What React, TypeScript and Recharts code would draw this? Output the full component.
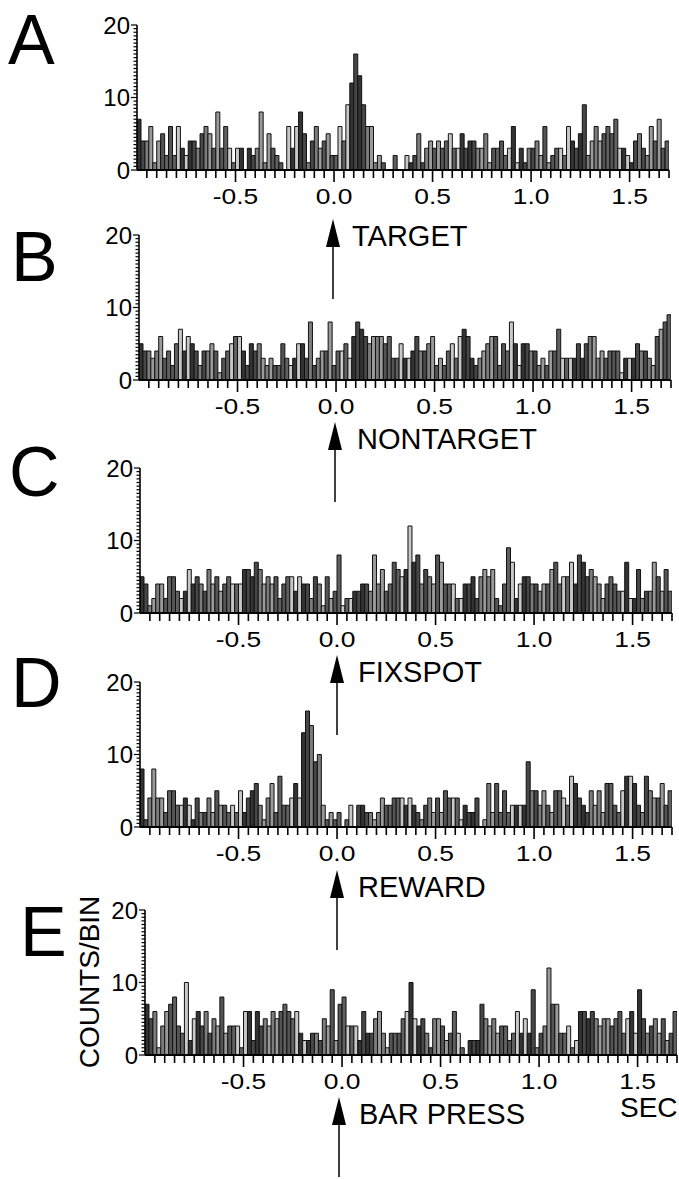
import { BarChart, Bar, XAxis, YAxis, Cell } from "recharts";

// peri-event histograms, 20 ms bins from -1.0 s to 1.7 s
const BIN_START = -1.0;
const BIN_WIDTH = 0.02;

const TARGET_COUNTS = [
  7, 4, 4, 6, 1, 4, 5, 2, 6, 2, 6, 3, 2, 4, 4,
  3, 5, 6, 5, 3, 8, 3, 6, 3, 1, 3, 3, 0, 3, 2,
  3, 8, 1, 5, 3, 2, 1, 0, 6, 3, 6, 8, 5, 1, 4,
  6, 3, 4, 5, 2, 2, 6, 4, 9, 12, 16, 13, 9, 6, 6,
  1, 2, 1, 0, 0, 2, 0, 0, 2, 1, 2, 5, 1, 3, 4,
  3, 4, 3, 4, 5, 3, 3, 5, 3, 4, 4, 3, 3, 5, 1,
  3, 3, 4, 2, 3, 6, 1, 3, 1, 3, 3, 4, 2, 6, 1,
  2, 3, 3, 2, 6, 4, 3, 5, 9, 2, 4, 6, 4, 5, 6,
  5, 7, 3, 3, 2, 1, 4, 5, 3, 2, 6, 4, 7, 3, 4,
];

const NONTARGET_COUNTS = [
  5, 4, 4, 3, 4, 6, 3, 4, 2, 5, 7, 4, 6, 5, 4,
  2, 4, 4, 5, 4, 1, 3, 4, 5, 6, 6, 4, 2, 5, 4,
  5, 3, 2, 3, 2, 2, 5, 3, 2, 3, 5, 5, 3, 8, 2,
  3, 4, 4, 8, 2, 4, 4, 5, 3, 6, 8, 7, 6, 5, 6,
  6, 6, 5, 6, 3, 3, 5, 3, 3, 4, 6, 4, 4, 5, 6,
  2, 3, 2, 4, 5, 3, 6, 7, 6, 3, 2, 3, 4, 5, 6,
  6, 2, 5, 4, 8, 5, 2, 5, 5, 4, 4, 2, 3, 2, 4,
  4, 7, 3, 3, 3, 3, 5, 3, 5, 6, 6, 3, 4, 3, 4,
  4, 4, 1, 3, 3, 3, 5, 4, 4, 3, 2, 6, 7, 8, 9,
];

const FIXSPOT_COUNTS = [
  5, 4, 1, 2, 4, 4, 2, 5, 5, 3, 2, 3, 6, 4, 5,
  4, 3, 6, 4, 5, 3, 4, 5, 4, 4, 4, 6, 6, 5, 7,
  6, 4, 5, 4, 5, 2, 4, 5, 5, 3, 5, 4, 4, 2, 5,
  4, 1, 5, 2, 3, 8, 1, 2, 2, 3, 3, 4, 4, 3, 8,
  4, 6, 3, 4, 7, 6, 5, 6, 12, 7, 8, 4, 6, 5, 4,
  8, 7, 4, 4, 4, 2, 2, 4, 4, 5, 2, 5, 6, 5, 6,
  2, 1, 4, 9, 7, 2, 4, 5, 5, 4, 4, 3, 4, 4, 6,
  7, 4, 5, 5, 7, 4, 8, 7, 5, 6, 5, 4, 2, 4, 5,
  4, 3, 3, 7, 2, 2, 6, 2, 3, 3, 7, 5, 3, 6, 3,
];

const REWARD_COUNTS = [
  8, 1, 4, 8, 4, 4, 2, 5, 5, 3, 3, 4, 3, 1, 4,
  2, 2, 4, 2, 5, 3, 3, 2, 3, 2, 5, 2, 4, 5, 6,
  3, 1, 4, 6, 2, 7, 3, 3, 4, 6, 4, 13, 16, 14, 9,
  10, 3, 1, 2, 1, 2, 0, 1, 3, 0, 3, 3, 2, 2, 1,
  2, 4, 3, 3, 4, 4, 4, 3, 4, 3, 2, 1, 3, 4, 2,
  4, 2, 5, 4, 4, 4, 1, 3, 2, 2, 4, 0, 1, 6, 2,
  6, 2, 5, 2, 3, 3, 3, 3, 9, 5, 5, 3, 5, 3, 2,
  5, 5, 4, 3, 7, 6, 4, 3, 2, 5, 3, 5, 2, 6, 6,
  3, 2, 5, 7, 7, 6, 3, 2, 7, 5, 4, 4, 6, 3, 5,
];

const BARPRESS_COUNTS = [
  7, 5, 6, 1, 4, 6, 7, 8, 4, 3, 10, 2, 5, 6, 4,
  6, 3, 5, 4, 8, 3, 4, 4, 4, 1, 6, 6, 2, 6, 4,
  5, 4, 6, 5, 6, 7, 6, 5, 6, 3, 2, 2, 3, 3, 2,
  5, 4, 9, 2, 7, 8, 4, 4, 4, 2, 6, 3, 3, 5, 6,
  3, 1, 3, 3, 3, 5, 6, 10, 5, 4, 5, 3, 1, 5, 5,
  4, 2, 3, 6, 3, 1, 0, 2, 2, 2, 7, 5, 4, 5, 3,
  4, 4, 2, 3, 6, 3, 5, 3, 9, 1, 3, 4, 12, 7, 7,
  3, 3, 4, 1, 2, 6, 6, 5, 6, 5, 4, 5, 5, 4, 5,
  6, 3, 5, 6, 3, 9, 5, 3, 4, 5, 3, 5, 2, 3, 6,
];

const PANEL_LETTERS = ["A", "B", "C", "D", "E"];
const EVENT_NAMES = ["TARGET", "NONTARGET", "FIXSPOT", "REWARD", "BAR PRESS"];
const X_MAJOR = [-0.5, 0, 0.5, 1.0, 1.5];
const X_LABELS = ["-0.5", "0.0", "0.5", "1.0", "1.5"];
const Y_LABELS = [0, 10, 20];

const ALL_COUNTS = [TARGET_COUNTS, NONTARGET_COUNTS, FIXSPOT_COUNTS, REWARD_COUNTS, BARPRESS_COUNTS];

// minor ticks every 50 ms, y ticks every half count
const X_TICKS: number[] = [];
for (let k = -19; k <= 34; k++) X_TICKS.push(Math.round(k * 5) / 100);
const Y_TICKS: number[] = [];
for (let k = 0; k <= 40; k++) Y_TICKS.push(k / 2);

const SHADES = ["#333333", "#606060", "#9a9a9a", "#474747", "#c8c8c8", "#545454", "#7c7c7c"];

const FONT = "'Liberation Sans', Arial, sans-serif";

// pixel layout of each panel: plot left/top, letter, arrow
const LAYOUT = [
  { left: 137, top: 25, lx: 8, ly: 64, ax: 333, tip: 219, tx: 352 },
  { left: 139, top: 235, lx: 11, ly: 281, ax: 335, tip: 422, tx: 357 },
  { left: 140, top: 468, lx: 9, ly: 496, ax: 337, tip: 655, tx: 358 },
  { left: 140, top: 682, lx: 11, ly: 707, ax: 337, tip: 870, tx: 358 },
  { left: 145, top: 910, lx: 20, ly: 956, ax: 339, tip: 1097, tx: 359 },
];

const Y_AXIS_W = 62;
const PLOT_W = 532;
const PLOT_H = 145;
const M_TOP = 16;
const M_RIGHT = 12;
const X_AXIS_H = 46;

// tick marks and labels; x/y arrive on the axis line
function XTick(props: any) {
  const { x, y, payload } = props;
  const idx = X_MAJOR.findIndex((m) => Math.abs(m - payload.value) < 1e-6);
  const major = idx >= 0;
  return (
    <g>
      <rect x={x - 0.8} y={y} width={1.6} height={major ? 12 : 8} fill="#000" />
      {major && (
        <text
          transform={`translate(${x},${y + 34}) scale(1.2,1)`}
          textAnchor="middle"
          fontSize={22}
          fill="#000"
          fontFamily={FONT}
        >
          {X_LABELS[idx]}
        </text>
      )}
    </g>
  );
}

function YTick(props: any) {
  const { x, y, payload } = props;
  const v = payload.value;
  const labeled = Y_LABELS.includes(v);
  const len = labeled ? 6 : 3.5;
  return (
    <g>
      <rect x={x - len} y={y - 0.6} width={len} height={1.2} fill="#000" />
      {labeled && (
        <text x={x - 7} y={y + 8.5} textAnchor="end" fontSize={24} fill="#000" fontFamily={FONT}>
          {v}
        </text>
      )}
    </g>
  );
}

function Panel({ counts, pos }: { counts: number[]; pos: (typeof LAYOUT)[number] }) {
  const rows = counts.map((c, i) => ({ t: BIN_START + BIN_WIDTH * (i + 0.5), c }));
  return (
    <div style={{ position: "absolute", left: pos.left - Y_AXIS_W, top: pos.top - M_TOP }}>
      <BarChart
        width={Y_AXIS_W + PLOT_W + M_RIGHT}
        height={M_TOP + PLOT_H + X_AXIS_H}
        data={rows}
        margin={{ top: M_TOP, right: M_RIGHT, bottom: 0, left: 0 }}
        barCategoryGap={0}
        barGap={0}
      >
        <XAxis
          dataKey="t"
          type="number"
          domain={[-1.0, 1.7]}
          allowDataOverflow
          ticks={X_TICKS}
          interval={0}
          tick={<XTick />}
          tickLine={false}
          tickSize={0}
          tickMargin={0}
          height={X_AXIS_H}
          axisLine={{ stroke: "#000", strokeWidth: 1.8 }}
        />
        <YAxis
          type="number"
          domain={[0, 20]}
          allowDataOverflow
          ticks={Y_TICKS}
          interval={0}
          tick={<YTick />}
          tickLine={false}
          tickSize={0}
          tickMargin={0}
          width={Y_AXIS_W}
          axisLine={{ stroke: "#000", strokeWidth: 1.6 }}
        />
        <Bar dataKey="c" isAnimationActive={false} stroke="#111" strokeWidth={1}>
          {rows.map((_, i) => (
            <Cell key={i} fill={SHADES[(i * 3 + Math.floor(i / 4)) % SHADES.length]} />
          ))}
        </Bar>
      </BarChart>
    </div>
  );
}

export default function App() {
  return (
    <div
      style={{
        position: "absolute",
        left: 0,
        top: 0,
        width: 679,
        height: 1179,
        background: "#fff",
        overflow: "hidden",
        fontFamily: FONT,
      }}
    >
      {ALL_COUNTS.map((counts, i) => (
        <Panel key={i} counts={counts} pos={LAYOUT[i]} />
      ))}

      <svg
        width={679}
        height={1179}
        style={{ position: "absolute", left: 0, top: 0, pointerEvents: "none" }}
        fontFamily={FONT}
      >
        {LAYOUT.map((p, i) => (
          <g key={i}>
            <text x={p.lx} y={p.ly} fontSize={70} fill="#000">
              {PANEL_LETTERS[i]}
            </text>
            <polygon points={`${p.ax},${p.tip} ${p.ax - 7},${p.tip + 28} ${p.ax + 7},${p.tip + 28}`} fill="#000" />
            <line x1={p.ax} x2={p.ax} y1={p.tip + 20} y2={p.tip + 80} stroke="#000" strokeWidth={1.5} />
            <text x={p.tx} y={p.tip + 27} fontSize={29} fill="#000">
              {EVENT_NAMES[i]}
            </text>
          </g>
        ))}
        <text x={620} y={1117} fontSize={28} fill="#000">
          SEC
        </text>
        <text transform="translate(99, 982) rotate(-90)" textAnchor="middle" fontSize={28} fill="#000">
          COUNTS/BIN
        </text>
      </svg>
    </div>
  );
}
